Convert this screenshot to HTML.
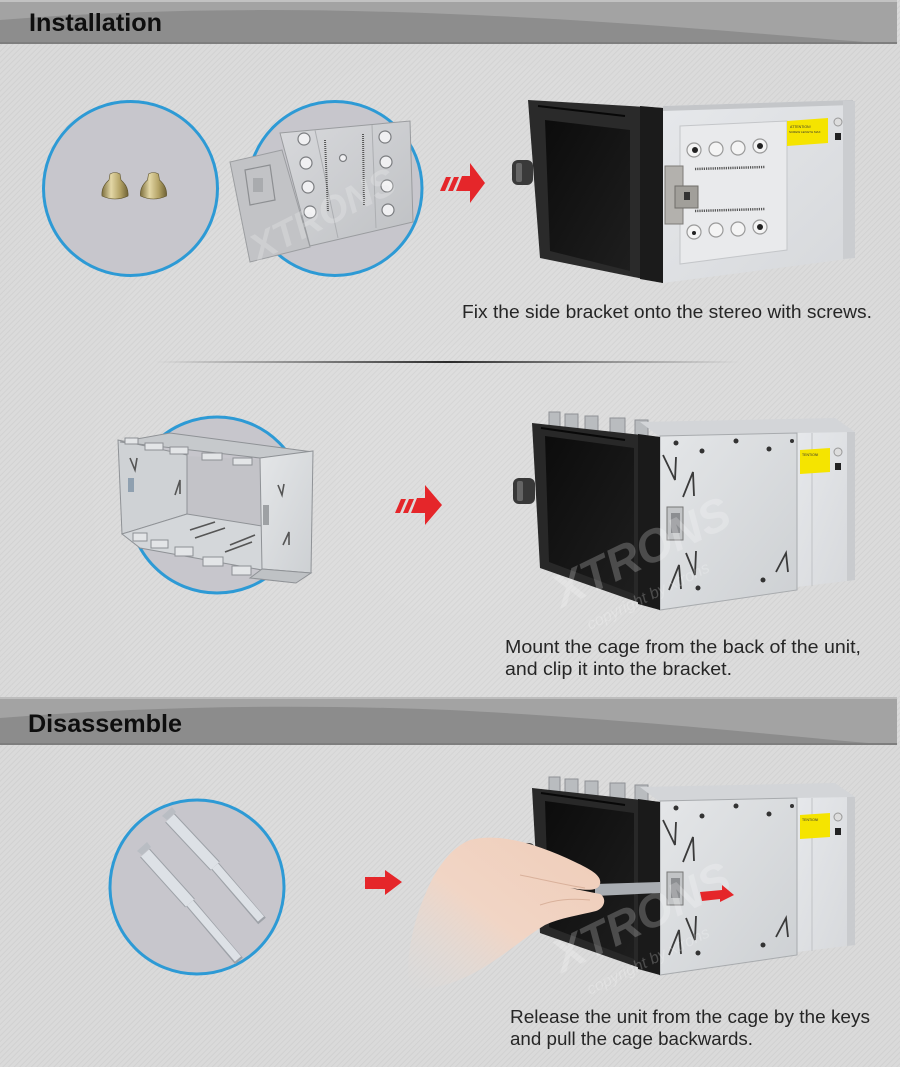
<!DOCTYPE html>
<html><head><meta charset="utf-8">
<style>
html,body{margin:0;padding:0;}
body{width:900px;height:1067px;overflow:hidden;background:#d9d9d9;}
svg{display:block;}
</style></head><body>
<svg width="900" height="1067" viewBox="0 0 900 1067" xmlns="http://www.w3.org/2000/svg" xmlns:xlink="http://www.w3.org/1999/xlink">
<defs>
<pattern id="hatch" width="4" height="4" patternUnits="userSpaceOnUse" patternTransform="rotate(45)">
<rect width="4" height="4" fill="#dadada"/>
<rect width="1" height="4" fill="#d1d1d1"/>
</pattern>
<radialGradient id="glow" cx="0.5" cy="0.45" r="0.6"><stop offset="0" stop-color="#fff" stop-opacity="0.12"/><stop offset="1" stop-color="#fff" stop-opacity="0"/></radialGradient>
<linearGradient id="sep" x1="0" x2="1"><stop offset="0" stop-color="#444" stop-opacity="0"/><stop offset="0.5" stop-color="#2a2a2a"/><stop offset="1" stop-color="#444" stop-opacity="0"/></linearGradient>
<linearGradient id="screen" x1="0" y1="0" x2="1" y2="1"><stop offset="0" stop-color="#0c0c0c"/><stop offset="1" stop-color="#1e1e1e"/></linearGradient>
<linearGradient id="panel" x1="0" y1="0" x2="1" y2="1"><stop offset="0" stop-color="#e4e6e8"/><stop offset="1" stop-color="#cdd0d3"/></linearGradient>
<linearGradient id="body" x1="0" y1="0" x2="1" y2="1"><stop offset="0" stop-color="#e6e8eb"/><stop offset="1" stop-color="#d6d8db"/></linearGradient>
<linearGradient id="gold" x1="0" y1="0" x2="1" y2="0"><stop offset="0" stop-color="#7d6f3e"/><stop offset="0.35" stop-color="#e3d7a6"/><stop offset="0.7" stop-color="#b3a265"/><stop offset="1" stop-color="#6f6236"/></linearGradient>
<linearGradient id="skin" x1="1" y1="0" x2="0" y2="1"><stop offset="0" stop-color="#f0cdb9"/><stop offset="0.55" stop-color="#f1d5c5"/><stop offset="1" stop-color="#e4dcd7" stop-opacity="0"/></linearGradient>
<linearGradient id="plate" x1="0" y1="0" x2="1" y2="1"><stop offset="0" stop-color="#d8d9dc"/><stop offset="1" stop-color="#bfc1c4"/></linearGradient>
</defs>

<rect width="900" height="1067" fill="url(#hatch)"/>
<rect width="900" height="1067" fill="url(#glow)"/>

<!-- Header 1 -->
<rect x="0" y="0" width="897" height="44" fill="#a3a3a3"/>
<rect x="0" y="0" width="897" height="2" fill="#c2c2c2"/>
<path d="M0,20 C150,8 300,8 450,14 C650,22 800,38 880,43 L0,43 Z" fill="#8d8d8d"/>
<rect x="0" y="42" width="897" height="2" fill="#7e7e7e"/>
<text x="29" y="31" font-family="Liberation Sans, Arial, sans-serif" font-weight="bold" font-size="25" fill="#0e0e0e" textLength="133" lengthAdjust="spacingAndGlyphs">Installation</text>

<!-- Section 1: screws circle -->
<circle cx="130.5" cy="188.5" r="87" fill="#c7c6cc" stroke="#2d9ad5" stroke-width="3"/>
<g>
<path d="M110,174 Q115,171 120,174 L121,180 Q129,187 128,196 Q115,202 102,196 Q101,187 109,180 Z" fill="url(#gold)" stroke="#5e532c" stroke-width="0.6"/>
<path d="M148.5,174 Q153.5,171 158.5,174 L159.5,180 Q167.5,187 166.5,196 Q153.5,202 140.5,196 Q139.5,187 147.5,180 Z" fill="url(#gold)" stroke="#5e532c" stroke-width="0.6"/>
</g>

<!-- bracket circle -->
<circle cx="335" cy="188.5" r="87" fill="#c7c6cc" stroke="#2d9ad5" stroke-width="3"/>
<polygon points="230,162 282,150 310,247 250,262" fill="#c2c3c6" stroke="#9c9ea1" stroke-width="1"/>
<polygon points="245,170 270,165 275,200 250,205" fill="none" stroke="#8d8f92" stroke-width="1.2"/>
<rect x="253" y="178" width="10" height="14" fill="#a9abae"/>
<polygon points="280,133 410,121 413,222 310,246" fill="url(#plate)" stroke="#9a9c9f" stroke-width="1"/>
<line x1="315" y1="130" x2="338" y2="238" stroke="#adafb2" stroke-width="1"/>
<line x1="372" y1="125" x2="376" y2="228" stroke="#adafb2" stroke-width="1"/>
<g fill="#f0f0f2" stroke="#7b7d80" stroke-width="1.2">
<circle cx="304" cy="139" r="6"/><circle cx="306" cy="163" r="6"/><circle cx="308" cy="187" r="6"/><circle cx="310" cy="212" r="6"/>
<circle cx="385" cy="137" r="6"/><circle cx="386" cy="162" r="6"/><circle cx="387" cy="186" r="6"/><circle cx="388" cy="210" r="6"/>
<circle cx="343" cy="158" r="3.5"/>
</g>
<line x1="325" y1="140" x2="328" y2="212" stroke="#555" stroke-width="2" stroke-dasharray="1 1"/>
<line x1="363" y1="134" x2="364" y2="205" stroke="#555" stroke-width="2" stroke-dasharray="1 1"/>
<text x="0" y="0" transform="translate(258,262) rotate(-27)" font-family="Liberation Sans, sans-serif" font-style="italic" font-weight="bold" font-size="38" fill="#ffffff" fill-opacity="0.2">XTRONS</text>

<!-- arrow 1 -->
<g fill="#e5262a">
<polygon points="440,191 446,177 451,177 445,191"/>
<polygon points="448,191 454,177 459,177 453,191"/>
<polygon points="456,191 462,176 470,176 470,163 485,183 470,203 470,191"/>
</g>

<!-- Stereo 1 -->
<g>
<polygon points="663,106 853,100 855,258 663,283" fill="url(#body)"/>
<polygon points="663,106 853,100 853,105 663,111" fill="#c4c6c9"/>
<polygon points="843,101 855,101 855,258 843,259" fill="#cbcdd0"/>
<polygon points="680,126 787,121 787,250 680,264" fill="#e9eaec" stroke="#c4c6c9" stroke-width="1"/>
<g fill="#f4f4f4" stroke="#9a9a9a" stroke-width="1.2">
<circle cx="694" cy="150" r="7"/><circle cx="716" cy="149" r="7"/><circle cx="738" cy="148" r="7"/><circle cx="760" cy="146" r="7"/>
<circle cx="694" cy="232" r="7"/><circle cx="716" cy="230" r="7"/><circle cx="738" cy="229" r="7"/><circle cx="760" cy="227" r="7"/>
</g>
<g fill="#222"><circle cx="695" cy="150" r="3"/><circle cx="760" cy="146" r="3"/><circle cx="760" cy="227" r="3"/><circle cx="694" cy="233" r="2"/></g>
<line x1="695" y1="169" x2="765" y2="167" stroke="#555" stroke-width="2.5" stroke-dasharray="1.2 1"/>
<line x1="695" y1="211" x2="765" y2="209" stroke="#555" stroke-width="2.5" stroke-dasharray="1.2 1"/>
<polygon points="787,121 828,118 828,143 787,146" fill="#f5e400"/>
<text x="790" y="128" font-family="Liberation Sans, sans-serif" font-size="3.5" fill="#333">ATTENTION!</text>
<text x="789" y="133" font-family="Liberation Sans, sans-serif" font-size="3" fill="#333">SCREW LENGTH MAX</text>
<rect x="835" y="133" width="6" height="7" fill="#222"/>
<circle cx="838" cy="122" r="4" fill="#ddd" stroke="#999"/>
<rect x="665" y="166" width="18" height="58" fill="#b3b1ad" stroke="#7d7b77" stroke-width="1"/>
<rect x="675" y="186" width="23" height="22" fill="#a19f9a" stroke="#6f6d69" stroke-width="1"/>
<rect x="684" y="192" width="6" height="8" fill="#333"/>
<polygon points="528,100 663,108 663,283 540,258" fill="#2a2a2a"/>
<polygon points="640,106 663,108 663,283 640,279" fill="#1b1b1b"/>
<polygon points="545,120 630,130 630,271 550,251" fill="url(#screen)"/>
<line x1="538" y1="106" x2="625" y2="116" stroke="#080808" stroke-width="2"/>
<rect x="512" y="160" width="21" height="25" rx="6" fill="#3a3a3a"/>
<rect x="516" y="163" width="6" height="19" rx="2" fill="#666"/>
</g>

<text x="462" y="318" font-family="Liberation Sans, Arial, sans-serif" font-size="18" fill="#262626" textLength="410" lengthAdjust="spacingAndGlyphs">Fix the side bracket onto the stereo with screws.</text>

<!-- separator -->
<rect x="155" y="361" width="585" height="2" fill="url(#sep)"/>

<!-- Section 2: cage -->
<circle cx="217" cy="505" r="88" fill="#c7c6cc" stroke="#2d9ad5" stroke-width="3"/>
<g stroke="#8f9296" stroke-width="1">
<polygon points="186,456 262,460 262,526 186,514" fill="#c3c3c8" stroke="none"/>
<polygon points="118,440 187,455 187,514 122,534" fill="#cfd2d5"/>
<polygon points="122,534 187,514 262,526 262,570 140,548" fill="#d4d7da"/>
<polygon points="120,442 170,433 313,452 260,458" fill="#c6c9cc"/>
<polygon points="260,458 313,451 311,573 262,569" fill="url(#panel)"/>
<polygon points="262,569 311,573 296,583 250,578" fill="#bfc2c5"/>
</g>
<g fill="#e3e5e7" stroke="#8d9094" stroke-width="1">
<rect x="125" y="438" width="13" height="6"/><rect x="145" y="443" width="18" height="7"/><rect x="170" y="447" width="18" height="7"/><rect x="202" y="453" width="20" height="7"/><rect x="233" y="458" width="19" height="7"/>
<rect x="133" y="533" width="14" height="8"/><rect x="151" y="540" width="17" height="8"/><rect x="175" y="547" width="18" height="9"/><rect x="203" y="557" width="20" height="9"/><rect x="232" y="566" width="19" height="9"/>
</g>
<g stroke="#555" stroke-width="1.6" fill="none">
<path d="M130,458 L135,470 L137,458"/><path d="M175,495 L180,480 L180,494"/>
<path d="M278,485 L282,495 L284,484"/><path d="M283,545 L289,532 L289,545"/>
<line x1="190" y1="530" x2="215" y2="522"/><line x1="195" y1="538" x2="225" y2="528"/>
<line x1="230" y1="545" x2="255" y2="535"/><line x1="225" y1="552" x2="252" y2="542"/>
</g>
<rect x="263" y="505" width="6" height="20" fill="#9ea1a4"/>
<rect x="128" y="478" width="6" height="14" fill="#8fa0b0"/>

<!-- arrow 2 -->
<g fill="#e5262a">
<polygon points="395,513 401,499 406,499 400,513"/>
<polygon points="403,513 409,499 414,499 408,513"/>
<polygon points="411,513 417,498 425,498 425,485 442,505 425,525 425,513"/>
</g>

<!-- Stereo 2 (reused for 3) -->
<g id="st2">
<g fill="#b9bcbf" stroke="#8e9195" stroke-width="1">
<rect x="549" y="412" width="11" height="18"/><rect x="565" y="414" width="13" height="18"/><rect x="585" y="416" width="13" height="18"/><rect x="610" y="418" width="15" height="18"/><rect x="635" y="420" width="13" height="18"/>
</g>
<polygon points="640,422 835,418 855,432 660,437" fill="#d3d5d8"/>
<polygon points="797,433 855,432 855,580 797,587" fill="url(#body)"/>
<polygon points="847,432 855,432 855,580 847,581" fill="#c9cbce"/>
<line x1="812" y1="433" x2="812" y2="586" stroke="#c0c2c5" stroke-width="1"/>
<polygon points="800,450 830,448 830,472 800,474" fill="#f5e400"/>
<text x="802" y="456" font-family="Liberation Sans, sans-serif" font-size="3.5" fill="#333">TENTION!</text>
<rect x="835" y="463" width="6" height="7" fill="#222"/>
<circle cx="838" cy="452" r="4" fill="#ddd" stroke="#999"/>
<polygon points="660,436 797,433 797,590 660,610" fill="url(#panel)" stroke="#a8abae" stroke-width="1"/>
<g fill="#333"><circle cx="676" cy="443" r="2.5"/><circle cx="702" cy="451" r="2.5"/><circle cx="736" cy="441" r="2.5"/><circle cx="769" cy="449" r="2.5"/><circle cx="792" cy="441" r="2"/><circle cx="763" cy="580" r="2.5"/><circle cx="698" cy="588" r="2.5"/></g>
<g stroke="#3a3a3a" stroke-width="1.8" fill="none">
<path d="M663,455 L675,480 L676,457"/><path d="M683,497 L693,472 L694,496"/>
<path d="M686,553 L695,575 L696,551"/><path d="M669,590 L679,565 L681,589"/>
<path d="M776,572 L786,553 L788,572"/>
</g>
<rect x="667" y="507" width="16" height="33" fill="#c2c4c6" stroke="#777" stroke-width="1"/>
<rect x="671" y="513" width="9" height="20" fill="#8c8e91"/>
<polygon points="532,423 660,437 660,610 540,568" fill="#282828"/>
<polygon points="638,434 660,437 660,610 638,604" fill="#1a1a1a"/>
<polygon points="545,436 634,448 634,594 549,562" fill="url(#screen)"/>
<line x1="541" y1="428" x2="625" y2="440" stroke="#080808" stroke-width="2"/>
<rect x="513" y="478" width="22" height="26" rx="6" fill="#383838"/>
<rect x="517" y="481" width="6" height="20" rx="2" fill="#646464"/>
<text x="0" y="0" transform="translate(562,608) rotate(-26)" font-family="Liberation Sans, sans-serif" font-style="italic" font-weight="bold" font-size="46" fill="#ffffff" fill-opacity="0.22">XTRONS</text>
<text x="0" y="0" transform="translate(590,630) rotate(-26)" font-family="Liberation Sans, sans-serif" font-style="italic" font-size="16" fill="#ffffff" fill-opacity="0.22">copyright by xtrons</text>
</g>

<text x="505" y="653" font-family="Liberation Sans, Arial, sans-serif" font-size="18" fill="#262626" textLength="356" lengthAdjust="spacingAndGlyphs">Mount the cage from the back of the unit,</text>
<text x="505" y="675" font-family="Liberation Sans, Arial, sans-serif" font-size="18" fill="#262626" textLength="227" lengthAdjust="spacingAndGlyphs">and clip it into the bracket.</text>

<!-- Header 2 -->
<rect x="0" y="697" width="897" height="48" fill="#a3a3a3"/>
<rect x="0" y="697" width="897" height="2" fill="#bdbdbd"/>
<path d="M0,718 C150,706 300,704 450,710 C650,720 800,738 880,744 L0,744 Z" fill="#8c8c8c"/>
<rect x="0" y="743" width="897" height="2" fill="#7e7e7e"/>
<text x="28" y="732" font-family="Liberation Sans, Arial, sans-serif" font-weight="bold" font-size="25" fill="#0e0e0e" textLength="154" lengthAdjust="spacingAndGlyphs">Disassemble</text>

<!-- Section 3: keys circle -->
<circle cx="197" cy="887" r="87" fill="#c7c6cc" stroke="#2d9ad5" stroke-width="3"/>
<g stroke-linecap="butt">
<line x1="170" y1="818" x2="215" y2="866" stroke="#9ea2a8" stroke-width="13"/>
<line x1="215" y1="866" x2="262" y2="921" stroke="#9ea2a8" stroke-width="10"/>
<line x1="170" y1="818" x2="215" y2="866" stroke="#dde1e6" stroke-width="11"/>
<line x1="215" y1="866" x2="261" y2="919" stroke="#dde1e6" stroke-width="8"/>
<line x1="145" y1="853" x2="190" y2="903" stroke="#9ea2a8" stroke-width="13"/>
<line x1="190" y1="903" x2="239" y2="961" stroke="#9ea2a8" stroke-width="10"/>
<line x1="145" y1="853" x2="190" y2="903" stroke="#dde1e6" stroke-width="11"/>
<line x1="190" y1="903" x2="238" y2="959" stroke="#dde1e6" stroke-width="8"/>
</g>
<polygon points="162,816 172,807 176,812 167,820" fill="#b9bdc3"/>
<polygon points="137,851 147,842 151,847 142,855" fill="#b9bdc3"/>

<!-- arrow 3 -->
<polygon points="365,877 385,877 385,870 402,882 385,895 385,889 365,889" fill="#e5262a"/>

<!-- Stereo 3 -->
<use xlink:href="#st2" href="#st2" x="0" y="365"/>
<!-- key strip and small arrow -->
<polygon points="595,884 660,882 660,893 595,896" fill="#a9adb2"/>
<polygon points="700,892 722,890 722,885 734,895 720,902 720,899 702,901" fill="#e5262a"/>
<!-- hand -->
<path d="M470,840 C500,832 540,845 575,862 C592,870 602,876 600,884 C598,892 585,890 570,888 L600,894 C607,898 605,908 596,911 C580,915 560,918 545,925 C520,940 500,960 470,975 C450,985 425,992 410,988 C404,960 414,920 425,895 C435,870 450,848 470,840 Z" fill="url(#skin)"/>
<path d="M520,875 C545,880 565,885 585,888" stroke="#d9b19b" stroke-width="1" fill="none"/>
<path d="M540,905 C555,900 570,898 590,900" stroke="#d9b19b" stroke-width="1" fill="none"/>

<text x="510" y="1023" font-family="Liberation Sans, Arial, sans-serif" font-size="18" fill="#262626" textLength="360" lengthAdjust="spacingAndGlyphs">Release the unit from the cage by the keys</text>
<text x="510" y="1045" font-family="Liberation Sans, Arial, sans-serif" font-size="18" fill="#262626" textLength="243" lengthAdjust="spacingAndGlyphs">and pull the cage backwards.</text>
</svg>
</body></html>
